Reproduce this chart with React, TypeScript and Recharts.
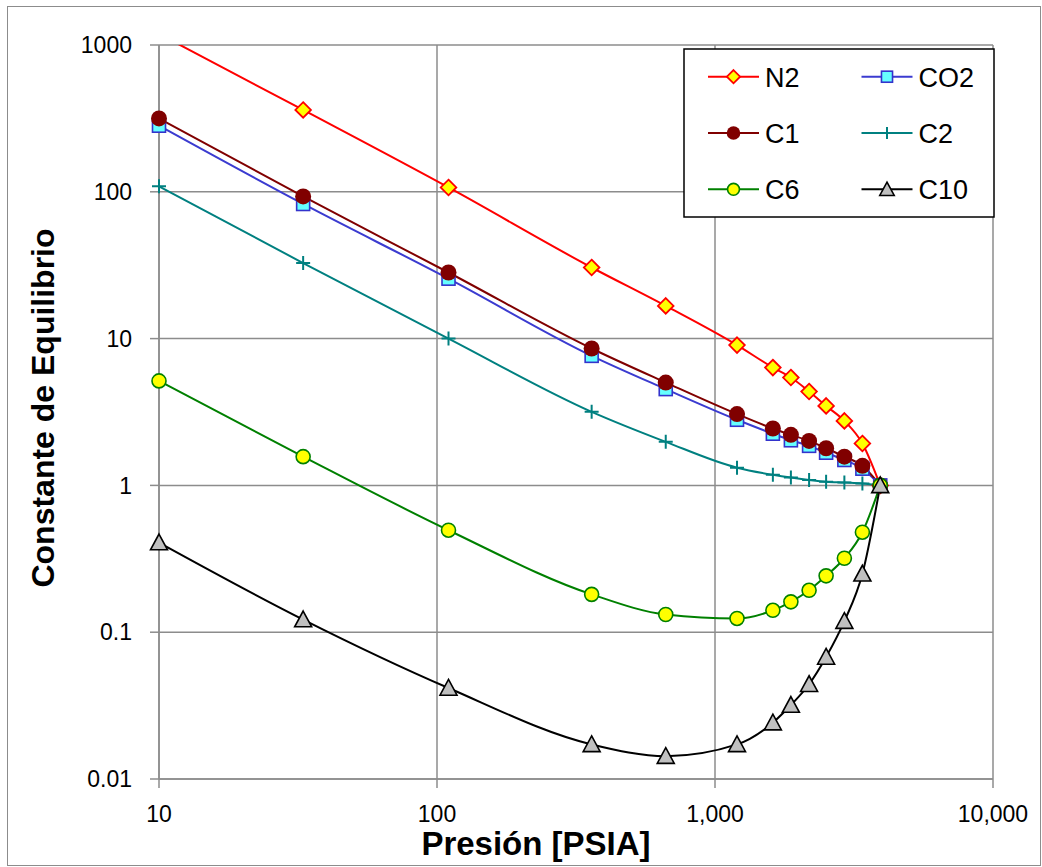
import React from 'react';
import { LineChart, Line, XAxis, YAxis, CartesianGrid, Label } from 'recharts';

// presión (psia) y constantes de equilibrio K
const pressures = [10, 33, 110, 360, 665, 1200, 1615, 1875, 2180, 2510, 2920, 3390, 3930];
const kN2 = [1190, 361, 107, 30.5, 16.7, 9.03, 6.35, 5.43, 4.36, 3.48, 2.75, 1.93, 1];
const kCO2 = [282, 82.6, 25.6, 7.63, 4.53, 2.8, 2.25, 2.03, 1.86, 1.67, 1.49, 1.3, 1];
const kC1 = [316, 93, 28.2, 8.56, 5.02, 3.06, 2.44, 2.21, 2.01, 1.79, 1.57, 1.36, 1];
const kC2 = [109, 32.7, 10, 3.17, 1.98, 1.32, 1.18, 1.13, 1.09, 1.06, 1.045, 1.03, 1];
const kC6 = [5.15, 1.57, 0.495, 0.181, 0.132, 0.124, 0.141, 0.161, 0.193, 0.242, 0.319, 0.48, 1];
const kC10 = [0.408, 0.122, 0.0417, 0.0172, 0.0143, 0.0172, 0.0242, 0.0319, 0.0442, 0.0678, 0.119, 0.25, 1];

const xTicks = [10, 100, 1000, 10000];
const yTicks = [0.01, 0.1, 1, 10, 100, 1000];

const data = pressures.map((p, i) => ({
  p,
  N2: kN2[i],
  CO2: kCO2[i],
  C1: kC1[i],
  C2: kC2[i],
  C6: kC6[i],
  C10: kC10[i],
}));

const GRID = '#8c8c8c';
const FONT = "'Liberation Sans', Arial, sans-serif";

type Kind = 'diamond' | 'square' | 'dot' | 'plus' | 'circle' | 'triangle';

const series: { key: string; color: string; kind: Kind }[] = [
  { key: 'N2', color: '#FF0000', kind: 'diamond' },
  { key: 'CO2', color: '#3B3BD0', kind: 'square' },
  { key: 'C1', color: '#800000', kind: 'dot' },
  { key: 'C2', color: '#008080', kind: 'plus' },
  { key: 'C6', color: '#008000', kind: 'circle' },
  { key: 'C10', color: '#000000', kind: 'triangle' },
];

function marker(kind: Kind, cx: number, cy: number, s: number, key?: any) {
  switch (kind) {
    case 'diamond': {
      const r = 7.8 * s;
      return (
        <path key={key} d={`M${cx},${cy - r}L${cx + r},${cy}L${cx},${cy + r}L${cx - r},${cy}Z`}
          fill="#FFFF00" stroke="#FF0000" strokeWidth={1.8} />
      );
    }
    case 'square': {
      const h = 6.5 * s;
      return <rect key={key} x={cx - h} y={cy - h} width={2 * h} height={2 * h}
        fill="#66FFFF" stroke="#3333CC" strokeWidth={1.6} />;
    }
    case 'dot':
      return <circle key={key} cx={cx} cy={cy} r={8 * s} fill="#800000" />;
    case 'plus': {
      const h = 7 * s;
      return (
        <path key={key} d={`M${cx - h},${cy}H${cx + h}M${cx},${cy - h}V${cy + h}`}
          stroke="#008080" strokeWidth={2} fill="none" />
      );
    }
    case 'circle':
      return <circle key={key} cx={cx} cy={cy} r={7 * s} fill="#FFFF00" stroke="#008000" strokeWidth={1.6} />;
    case 'triangle': {
      const w = 8.5 * s;
      return (
        <path key={key} d={`M${cx},${cy - w}L${cx + w},${cy + w * 0.85}L${cx - w},${cy + w * 0.85}Z`}
          fill="#C0C0C0" stroke="#000000" strokeWidth={1.6} strokeLinejoin="miter" />
      );
    }
  }
}

const dotFor = (kind: Kind) => (props: any) => {
  const { cx, cy, index } = props;
  if (cx == null || cy == null) return <g key={`d-${index}`} />;
  return marker(kind, cx, cy, 1, `d-${index}`);
};

const tickStyle = { fill: '#000', fontSize: 23, fontFamily: FONT };

const LegendBox = () => {
  const rows = [
    [series[0], series[1]],
    [series[2], series[3]],
    [series[4], series[5]],
  ];
  return (
    <svg width={312} height={170} style={{ position: 'absolute', left: 683, top: 48 }}>
      <rect x={1} y={1} width={310} height={168} fill="#fff" stroke="#000" strokeWidth={1.5} />
      {rows.map((row, r) =>
        row.map((s, c) => {
          const y = 28.7 + r * 56.3;
          const x0 = c === 0 ? 25 : 178.5;
          return (
            <g key={s.key}>
              <line x1={x0} x2={x0 + 51} y1={y} y2={y} stroke={s.color} strokeWidth={2} />
              {marker(s.kind, x0 + 25.5, y, 0.85)}
              <text x={x0 + 57} y={y + 10} fontSize={27} fontFamily={FONT} fill="#000">{s.key}</text>
            </g>
          );
        })
      )}
    </svg>
  );
};

export default function App() {
  return (
    <div style={{ position: 'absolute', left: 0, top: 0, width: 1042, height: 867, background: '#fff' }}>
      <div style={{ position: 'absolute', left: 7, top: 6, width: 1032, height: 858, border: `1px solid ${GRID}` }} />
      <div style={{ position: 'absolute', left: 0, top: 0 }}>
        <LineChart width={1042} height={867} data={data} margin={{ top: 45, right: 49, bottom: 0, left: 0 }}>
          <CartesianGrid stroke={GRID} strokeWidth={1.5} />
          <XAxis dataKey="p" type="number" scale="log" domain={[10, 10000]} ticks={xTicks} interval={0}
            height={88} tickSize={9} tickMargin={18} tick={tickStyle}
            tickFormatter={(v: number) => v.toLocaleString('en-US')}
            axisLine={{ stroke: GRID, strokeWidth: 1.5 }} tickLine={{ stroke: GRID, strokeWidth: 1.5 }}>
            <Label content={() => (
              <text x={536} y={855} textAnchor="middle" fontSize={33} fontWeight="bold" fontFamily={FONT} fill="#000">
                Presión [PSIA]
              </text>
            )} />
          </XAxis>
          <YAxis type="number" scale="log" domain={[0.01, 1000]} ticks={yTicks} interval={0}
            width={159} tickSize={9} tickMargin={18} tick={tickStyle}
            tickFormatter={(v: number) => String(v)}
            axisLine={{ stroke: GRID, strokeWidth: 1.5 }} tickLine={{ stroke: GRID, strokeWidth: 1.5 }}>
            <Label content={() => (
              <text transform="translate(54,408) rotate(-90)" textAnchor="middle" fontSize={32} fontWeight="bold"
                fontFamily={FONT} fill="#000">
                Constante de Equilibrio
              </text>
            )} />
          </YAxis>
          <YAxis yAxisId="clip" hide type="number" scale="log" domain={[0.01, 1000]} allowDataOverflow />
          {series.map((s) => (
            <Line key={s.key} dataKey={s.key} yAxisId={s.key === 'N2' ? 'clip' : 0} type="monotone"
              stroke={s.color} strokeWidth={2} dot={dotFor(s.kind)} activeDot={false}
              isAnimationActive={false} />
          ))}
        </LineChart>
      </div>
      <LegendBox />
    </div>
  );
}
